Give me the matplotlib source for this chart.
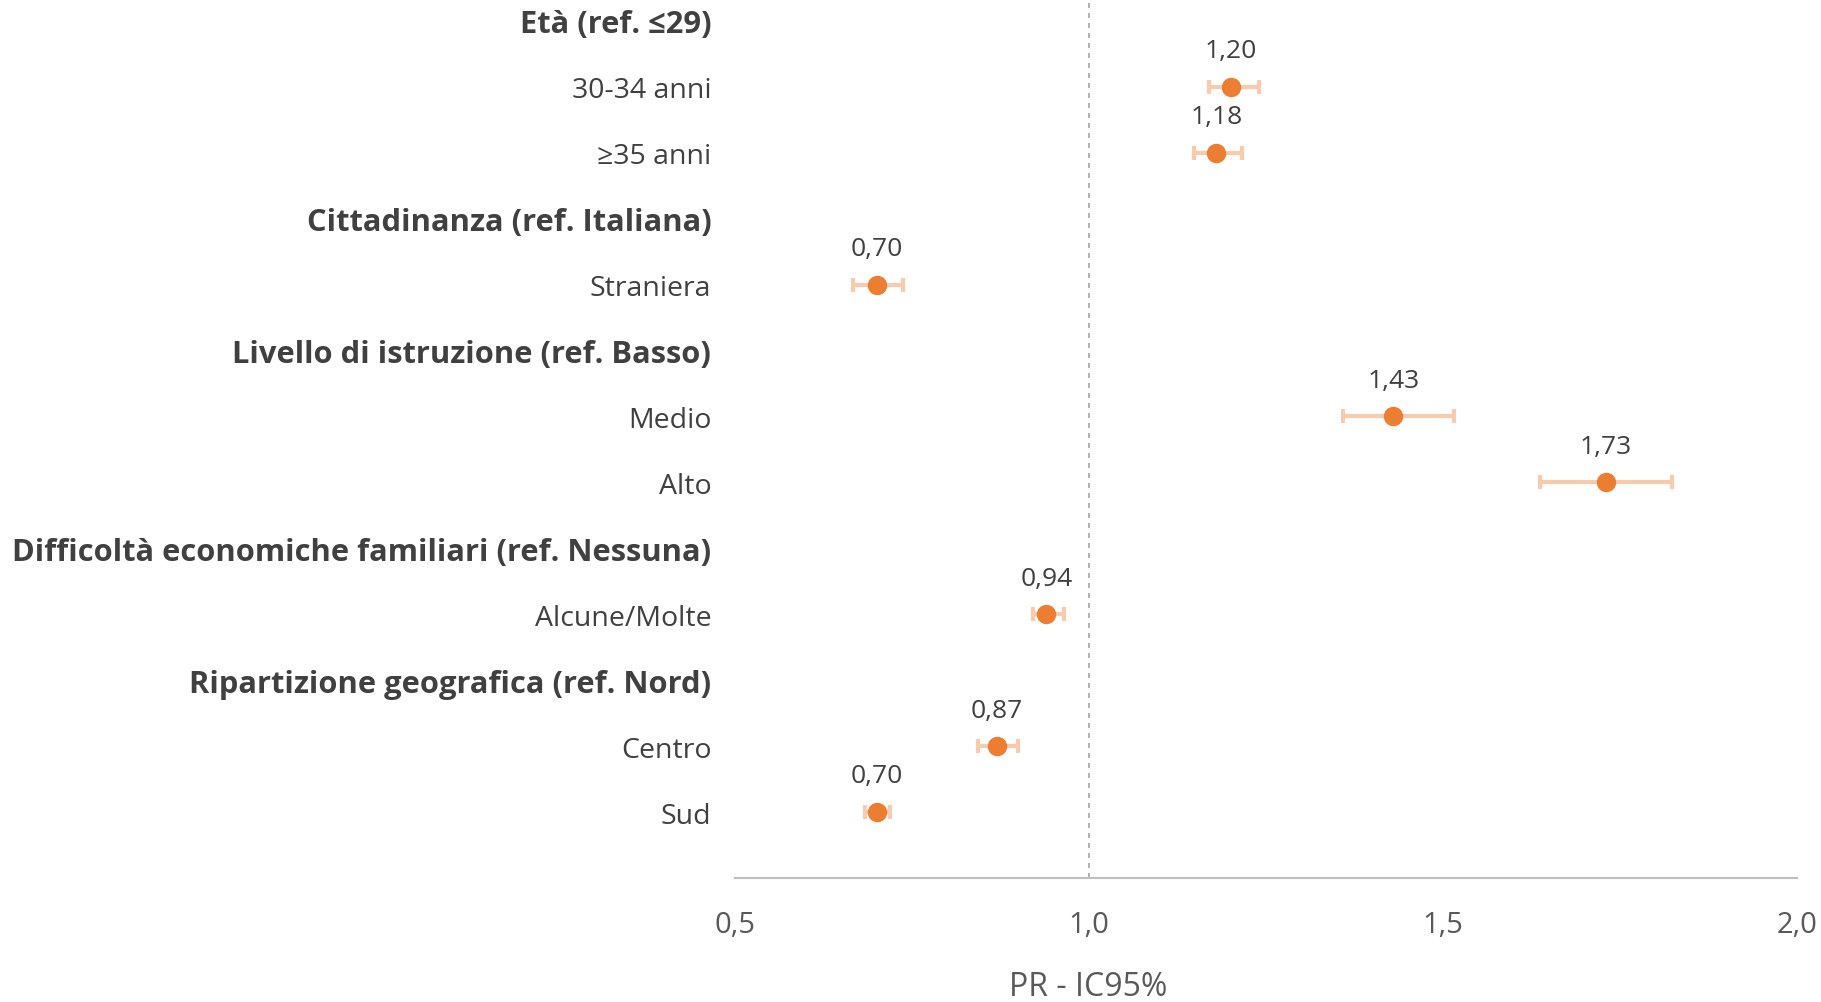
import matplotlib
matplotlib.use("Agg")
import matplotlib.pyplot as plt
import numpy as np

labels = ["Età (ref. ≤29)", "30-34 anni", "≥35 anni",
          "Cittadinanza (ref. Italiana)", "Straniera",
          "Livello di istruzione (ref. Basso)", "Medio", "Alto",
          "Difficoltà economiche familiari (ref. Nessuna)", "Alcune/Molte",
          "Ripartizione geografica (ref. Nord)", "Centro", "Sud"]
is_header = [True, False, False, True, False, True, False, False, True, False, True, False, False]
pr = [None, 1.20, 1.18, None, 0.70, None, 1.43, 1.73, None, 0.94, None, 0.87, 0.70]
ci_low = [None, 1.169, 1.148, None, 0.667, None, 1.359, 1.637, None, 0.921, None, 0.843, 0.684]
ci_high = [None, 1.240, 1.216, None, 0.737, None, 1.516, 1.823, None, 0.965, None, 0.900, 0.719]
xticks = [0.5, 1.0, 1.5, 2.0]
xlabel = "PR - IC95%"

plt.rcParams['font.family'] = ['Open Sans', 'DejaVu Sans']

fig = plt.figure(figsize=(18.21, 10.03), dpi=100)
ax = fig.add_axes([0.4036, 0.1236, 0.9868 - 0.4036, 1 - 0.1236])

for i, (v, lo, hi) in enumerate(zip(pr, ci_low, ci_high)):
    if v is None:
        continue
    ax.errorbar([v], [i], xerr=[[v - lo], [hi - v]], fmt='none',
                ecolor='#F8CBAD', elinewidth=3, capsize=5, capthick=3, zorder=2)
    ax.plot([v], [i], 'o', color='#ED7D31', markersize=13, zorder=3)
    ax.annotate(f"{v:.2f}".replace('.', ','), (v, i), xytext=(0, 17),
                textcoords='offset points', ha='center', va='bottom',
                fontsize=19, color='#404040')

ax.axvline(1.0, color='#A6A6A6', linestyle=(0, (3, 3)), linewidth=1.2, zorder=1)

ax.set_xlim(0.5, 2.0)
ax.set_ylim(13.0, -0.33)
ax.set_yticks(range(len(labels)))
ax.set_yticklabels(labels)
for t, h in zip(ax.get_yticklabels(), is_header):
    t.set_fontsize(22.2 if h else 20.5)
    t.set_fontweight('bold' if h else 'normal')
    t.set_color('#404040')
ax.tick_params(axis='y', length=0, pad=17)
ax.set_xticks(xticks)
ax.set_xticklabels([f"{x:.1f}".replace('.', ',') for x in xticks])
ax.tick_params(axis='x', length=0, pad=23, labelsize=21, labelcolor='#595959')
ax.set_xlabel(xlabel, fontsize=23, color='#595959')
ax.xaxis.label.set_va('center')
ax.xaxis.set_label_coords(0.333, -0.123)

for s in ['top', 'right', 'left']:
    ax.spines[s].set_visible(False)
ax.spines['bottom'].set_color('#BFBFBF')
ax.spines['bottom'].set_linewidth(1.5)

fig.savefig("out.png", dpi=100)
